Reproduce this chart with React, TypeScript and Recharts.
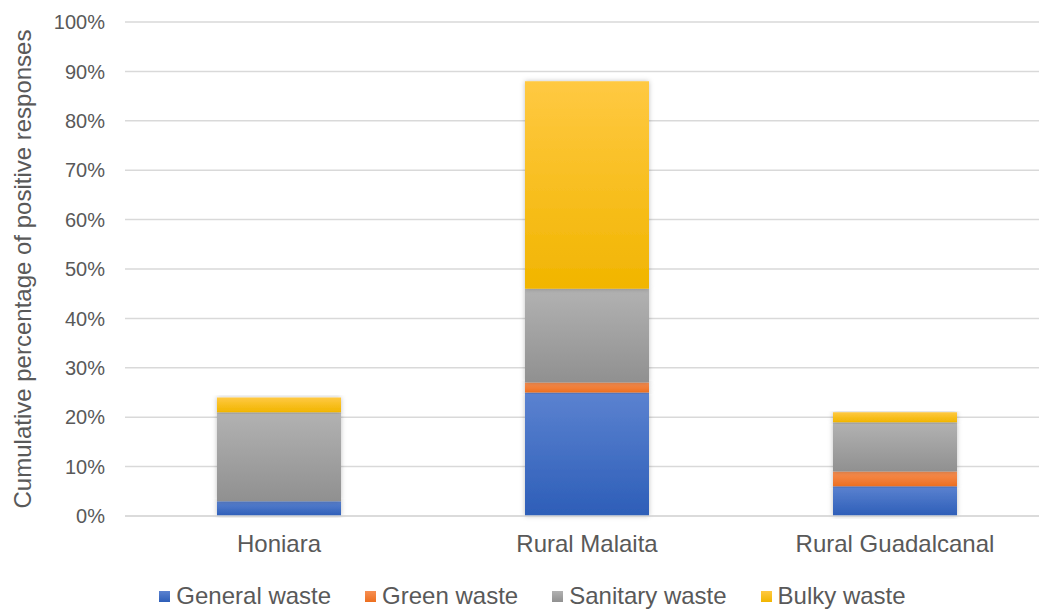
import { Bar, BarChart, CartesianGrid, Legend, XAxis, YAxis } from 'recharts';

const regions = ['Honiara', 'Rural Malaita', 'Rural Guadalcanal'];
const generalWaste = [3, 25, 6];
const greenWaste = [0, 2, 3];
const sanitaryWaste = [18, 19, 10];
const bulkyWaste = [3, 42, 2];
const yTicks = [0, 10, 20, 30, 40, 50, 60, 70, 80, 90, 100];

const series = [
  { key: 'general', name: 'General waste', top: '#5b82d0', bottom: '#2d5eb8' },
  { key: 'green', name: 'Green waste', top: '#f78f53', bottom: '#ed6f1f' },
  { key: 'sanitary', name: 'Sanitary waste', top: '#b2b2b2', bottom: '#909090' },
  { key: 'bulky', name: 'Bulky waste', top: '#ffc942', bottom: '#f1b500' },
];

const data = regions.map((region, i) => ({
  region,
  general: generalWaste[i],
  green: greenWaste[i],
  sanitary: sanitaryWaste[i],
  bulky: bulkyWaste[i],
}));

const textColor = '#595959';
const font = '"Liberation Sans", Arial, sans-serif';

function WasteLegend() {
  return (
    <div
      style={{
        display: 'flex',
        justifyContent: 'center',
        gap: 34,
        paddingLeft: 16,
        fontFamily: font,
        fontSize: 24,
        color: textColor,
        lineHeight: '28px',
      }}
    >
      {series.map((s) => (
        <div key={s.key} style={{ display: 'flex', alignItems: 'center' }}>
          <span
            style={{
              display: 'inline-block',
              width: 11,
              height: 11,
              marginRight: 6,
              background: `linear-gradient(${s.top}, ${s.bottom})`,
            }}
          />
          {s.name}
        </div>
      ))}
    </div>
  );
}

export default function App() {
  return (
    <div style={{ position: 'absolute', left: 0, top: 0, width: 1039, height: 610, overflow: 'hidden', background: '#fff' }}>
      <BarChart width={1063} height={610} data={data} margin={{ top: 22, right: 14, bottom: 0, left: 0 }} barSize={124}>
        <defs>
          {series.map((s) => (
            <linearGradient key={s.key} id={`fill-${s.key}`} x1="0" y1="0" x2="0" y2="1">
              <stop offset="0%" stopColor={s.top} />
              <stop offset="100%" stopColor={s.bottom} />
            </linearGradient>
          ))}
          <filter id="barShadow" x="-10%" y="-10%" width="120%" height="120%">
            <feDropShadow dx="0" dy="0" stdDeviation="2.5" floodColor="#000" floodOpacity="0.25" />
          </filter>
        </defs>
        <CartesianGrid stroke="#d9d9d9" strokeWidth={1.5} vertical={false} />
        <XAxis
          dataKey="region"
          height={66}
          axisLine={{ stroke: '#d9d9d9', strokeWidth: 1.5 }}
          tickLine={false}
          tick={{ fill: textColor, fontSize: 24, fontFamily: font }}
          tickMargin={13}
        />
        <YAxis
          width={125}
          domain={[0, 100]}
          ticks={yTicks}
          interval={0}
          tickFormatter={(v: number) => `${v}%`}
          axisLine={false}
          tickLine={false}
          tickMargin={14}
          tick={{ fill: textColor, fontSize: 20, fontFamily: font }}
          label={{
            content: () => (
              <text
                x={22}
                y={269}
                transform="rotate(-90 22 269)"
                textAnchor="middle"
                dominantBaseline="central"
                fill={textColor}
                fontSize={24}
                fontFamily={font}
              >
                Cumulative percentage of positive responses
              </text>
            ),
          }}
        />
        <Legend verticalAlign="bottom" height={28} content={() => <WasteLegend />} />
        {series.map((s) => (
          <Bar
            key={s.key}
            dataKey={s.key}
            name={s.name}
            stackId="waste"
            fill={`url(#fill-${s.key})`}
            filter="url(#barShadow)"
            isAnimationActive={false}
          />
        ))}
      </BarChart>
    </div>
  );
}
